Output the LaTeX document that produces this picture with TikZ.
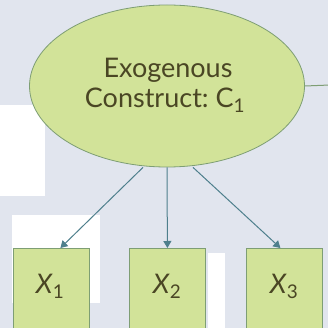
\documentclass[tikz,border=0pt]{standalone}
\usepackage{fontspec}
\setmainfont{Lato}
\frenchspacing
\usetikzlibrary{shapes.geometric,arrows.meta}
\definecolor{bgblue}{HTML}{E1E5EE}
\definecolor{leaf}{HTML}{D2E399}
\definecolor{leafline}{HTML}{7E9E74}
\definecolor{arrowc}{HTML}{4E7F8C}
\definecolor{ink}{HTML}{4A4624}
\tikzset{
  construct/.style={ellipse, draw=leafline, fill=leaf, line width=0.8pt,
    minimum width=275pt, minimum height=162pt, inner sep=0pt},
  ctext/.style={text=ink, font=\fontsize{27}{30}\selectfont, anchor=base, inner sep=0pt},
  indicator/.style={rectangle, draw=leafline, fill=leaf, line width=0.8pt,
    minimum width=76pt, minimum height=90pt, inner sep=0pt, anchor=north west},
  varlabel/.style={text=ink, font=\fontsize{27}{30}\selectfont, anchor=base, inner sep=0pt},
  load/.style={draw=arrowc, line width=1pt, -{Triangle[length=7pt,width=8pt]}}
}
\begin{document}
\begin{tikzpicture}[x=1pt,y=-1pt]
  \useasboundingbox (0,0) rectangle (328,328);
  \fill[bgblue] (0,0) rectangle (328,328);
  % white paper patches behind the diagram
  \fill[white] (0,105) rectangle (45,196);
  \fill[white] (12,215) rectangle (100,303);
  \fill[white] (208,253) rectangle (225,328);
  % latent construct and its outgoing path
  \node[construct] (c1) at (167,86) {};
  \node[ctext] (c1a) at (168,78) {Exogenous};
  \node[ctext] (c1b) at (165,108) {Construct: C\textsubscript{1}};
  \coordinate (rightend) at (330,85);
  \draw[leafline, line width=1pt] (c1.east) -- (rightend);
  % observed indicators
  \node[indicator] (x1) at (13,248) {};
  \node[indicator] (x2) at (129,248) {};
  \node[indicator] (x3) at (246,248) {};
  \node[varlabel] (l1) at (50,293) {\textit{X}\textsubscript{1}};
  \node[varlabel] (l2) at (167,293) {\textit{X}\textsubscript{2}};
  \node[varlabel] (l3) at (284,293) {\textit{X}\textsubscript{3}};
  % loadings
  \draw[load] (c1.south) ++(-24,0) coordinate (s1) (s1) -- ([xshift=9pt]x1.north);
  \draw[load] (c1.south) -- (x2.north);
  \draw[load] (c1.south) ++(26,0) coordinate (s3) (s3) -- ([xshift=-4pt]x3.north);
\end{tikzpicture}
\end{document}
